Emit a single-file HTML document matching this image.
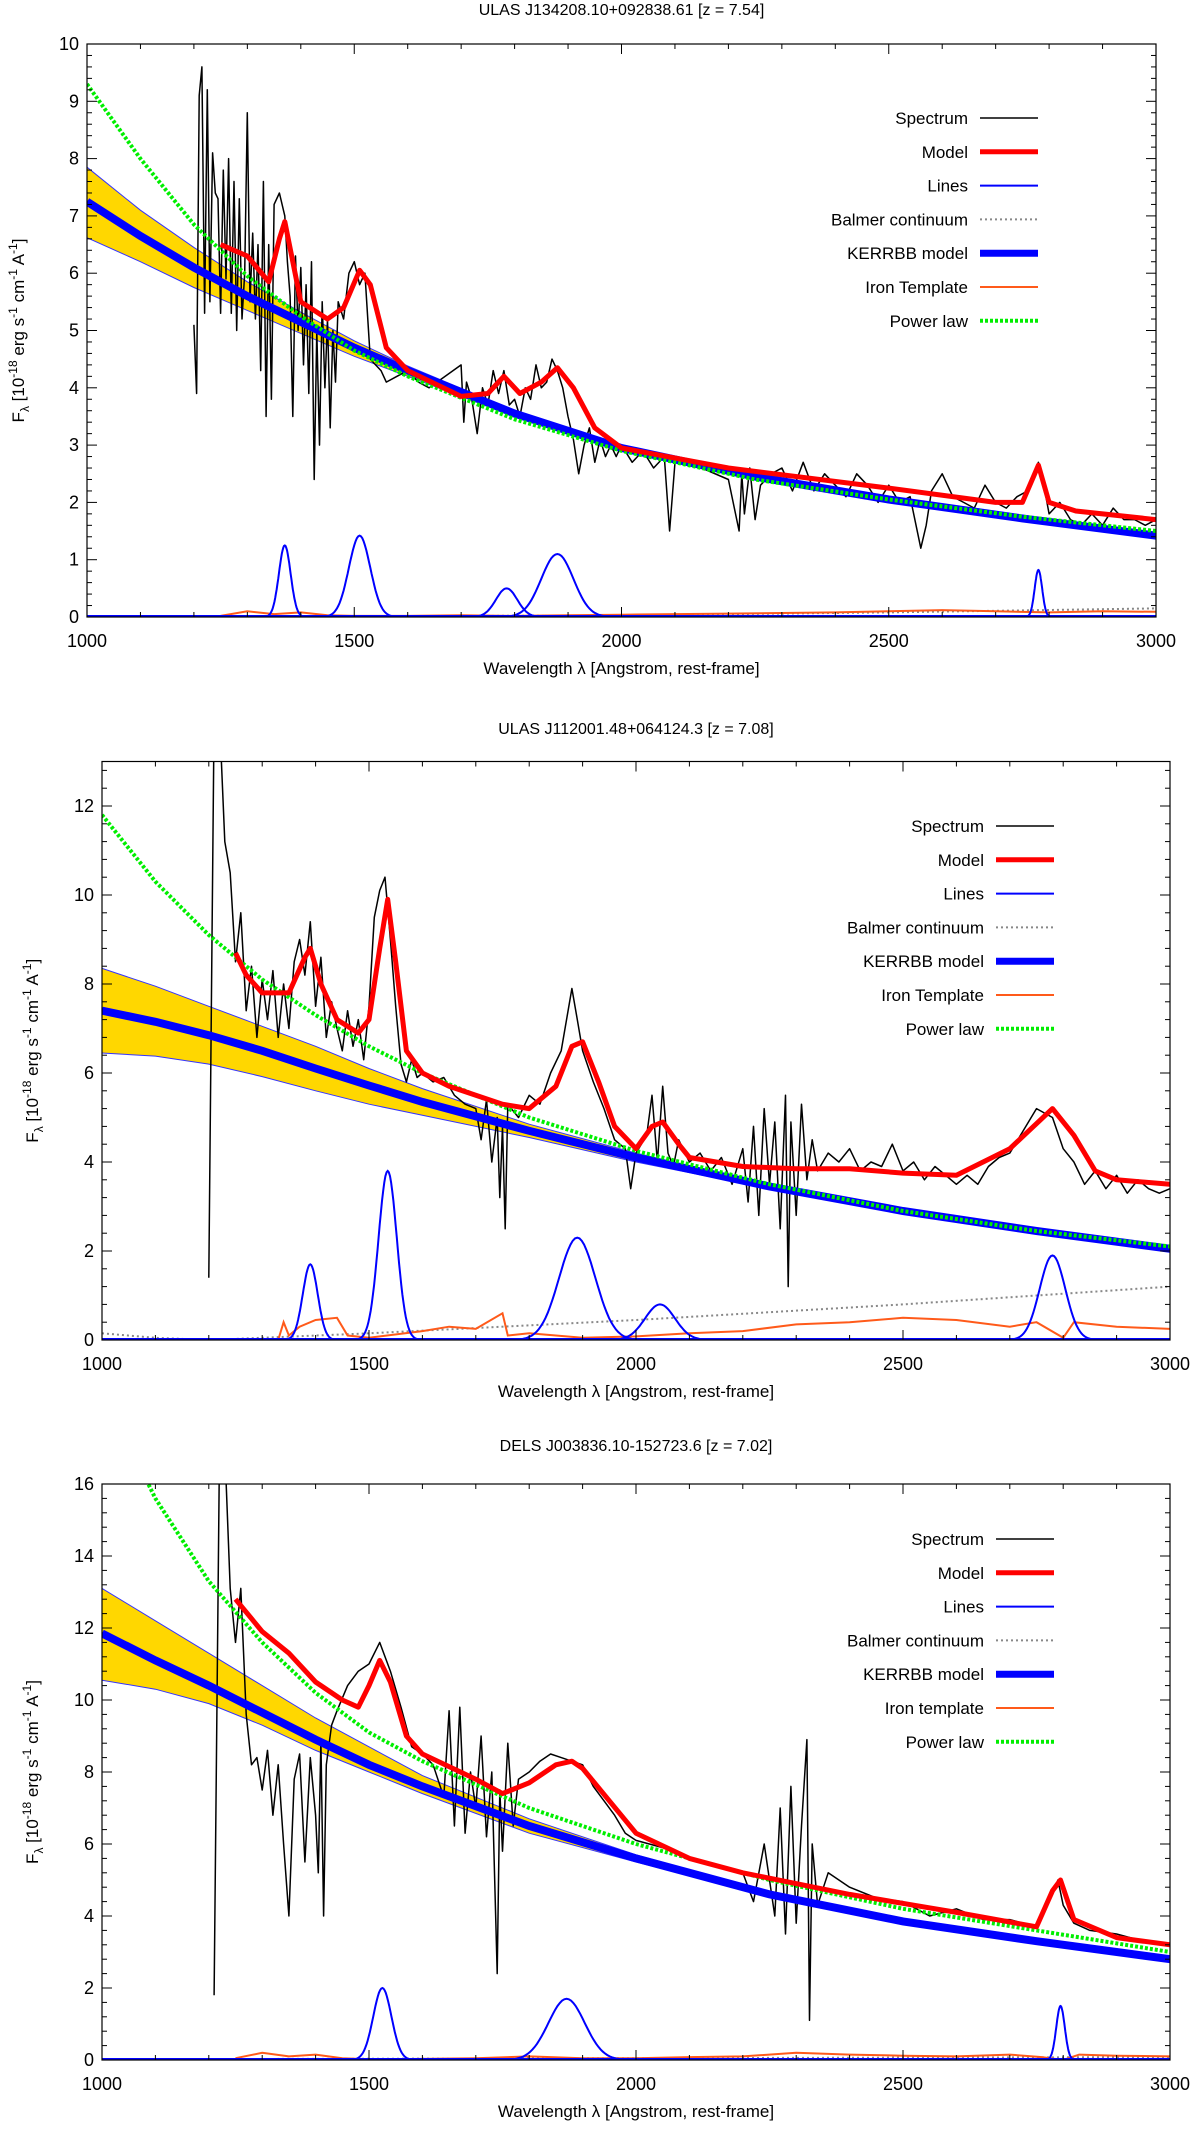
<!DOCTYPE html>
<html><head><meta charset="utf-8"><style>
html,body{margin:0;padding:0;background:#fff}
svg{display:block;font-family:"Liberation Sans","DejaVu Sans",sans-serif}
</style></head><body>
<svg id="fig" width="1200" height="2131" viewBox="0 0 1200 2131" xmlns="http://www.w3.org/2000/svg"></svg>
<script>
// ===== Panel 1 data: ULAS J134208.10+092838.61 =====
const p1SpecWl=[1200,1205,1210,1215,1220,1225,1230,1235,1240,1245,1250,1255,1260,1265,1270,1275,1280,1285,1290,1295,1300,1305,1310,1315,1320,1325,1330,1335,1340,1345,1350,1360,1370,1375,1380,1385,1390,1395,1400,1405,1410,1415,1420,1425,1430,1435,1440,1445,1450,1455,1460,1465,1470,1480,1490,1500,1510,1520,1530,1540,1550,1560,1580,1600,1620,1640,1700,1705,1710,1720,1730,1740,1750,1760,1770,1780,1790,1800,1810,1820,1830,1840,1850,1860,1870,1880,1890,1900,1910,1920,1930,1940,1950,1960,1970,1980,1990,2000,2020,2040,2060,2080,2090,2100,2150,2200,2220,2225,2230,2240,2250,2260,2280,2300,2320,2340,2360,2380,2400,2420,2440,2460,2480,2500,2520,2540,2560,2570,2580,2600,2620,2640,2660,2680,2700,2720,2740,2760,2780,2790,2800,2820,2840,2860,2880,2900,2920,2940,2960,2980,3000];
const p1SpecF=[5.1,3.9,9.1,9.6,5.3,9.2,5.5,8.1,7.4,7.3,5.3,7.8,5.9,8.0,5.3,7.6,5.0,7.3,5.2,6.0,8.8,5.5,6.7,5.2,6.5,4.3,7.6,3.5,6.5,3.8,7.2,7.4,7.0,6.2,5.6,3.5,6.3,5.0,6.1,4.4,5.8,3.9,6.2,2.4,5.0,3.0,5.5,4.0,5.2,3.3,5.0,4.1,5.5,5.2,6.0,6.2,5.8,6.0,4.5,4.4,4.3,4.1,4.2,4.3,4.1,4.0,4.4,3.4,4.1,3.8,3.2,4.0,3.7,4.3,3.9,4.3,3.7,3.8,3.5,4.0,3.8,4.4,4.0,4.1,4.5,4.3,4.0,3.5,3.1,2.5,3.0,3.3,2.7,3.1,2.8,3.0,2.8,3.0,2.7,2.9,2.6,2.8,1.5,2.7,2.6,2.4,1.5,2.5,1.8,2.6,1.7,2.3,2.5,2.6,2.2,2.7,2.2,2.5,2.3,2.1,2.5,2.3,2.0,2.3,2.0,2.1,1.2,1.6,2.2,2.5,2.1,2.0,1.9,2.3,2.0,1.9,2.1,2.2,2.7,2.3,1.8,2.0,1.7,1.6,1.8,1.6,1.9,1.7,1.7,1.6,1.7];
const p1ModelWl=[1250,1300,1340,1360,1370,1385,1400,1450,1480,1510,1530,1560,1600,1700,1750,1780,1810,1850,1880,1910,1950,2000,2200,2500,2700,2750,2780,2800,2850,3000];
const p1ModelF=[6.5,6.3,5.85,6.6,6.9,6.2,5.5,5.2,5.4,6.05,5.8,4.7,4.3,3.85,3.9,4.2,3.9,4.1,4.35,4.0,3.3,2.95,2.6,2.25,2.0,2.0,2.65,2.0,1.85,1.7];
const p1ContWl=[1000,1100,1200,1300,1400,1500,1600,1800,2000,2250,2500,2750,3000];
const p1PowerF=[9.3,8.0,6.85,5.95,5.25,4.65,4.2,3.45,2.9,2.4,2.05,1.75,1.5];
const p1KerrF=[7.25,6.65,6.1,5.6,5.15,4.7,4.3,3.55,2.95,2.45,2.05,1.72,1.42];
const p1KerrHi=[7.85,7.1,6.45,5.85,5.32,4.82,4.38,3.6,2.98,2.47,2.07,1.74,1.44];
const p1KerrLo=[6.62,6.2,5.75,5.35,4.95,4.55,4.2,3.5,2.92,2.43,2.03,1.7,1.4];
const p1LineCenters=[1370,1510,1785,1880,2780];
const p1LineAmps=[1.25,1.42,0.5,1.1,0.82];
const p1LineSigmas=[11,20,20,30,7];
const p1IronWl=[1250,1300,1350,1400,1450,1500,1600,1700,1800,1900,2000,2100,2200,2300,2400,2500,2600,2700,2800,2900,3000];
const p1IronF=[0.02,0.1,0.05,0.08,0.03,0.02,0.02,0.03,0.02,0.03,0.04,0.05,0.06,0.07,0.08,0.1,0.12,0.1,0.08,0.1,0.09];
const p1BalmerWl=[1000,1500,2000,2500,3000];
const p1BalmerF=[0,0.01,0.03,0.08,0.15];

// ===== Panel 2 data: ULAS J112001.48+064124.3 =====
const p2SpecWl=[1200,1210,1220,1230,1240,1250,1260,1270,1280,1290,1300,1310,1320,1330,1340,1350,1360,1370,1380,1390,1400,1410,1420,1430,1440,1450,1460,1470,1480,1490,1500,1510,1520,1530,1540,1550,1560,1570,1580,1590,1600,1620,1640,1660,1680,1700,1710,1720,1730,1740,1745,1750,1755,1760,1780,1800,1820,1840,1860,1880,1890,1900,1920,1940,1960,1980,1990,2000,2020,2030,2040,2050,2060,2070,2080,2100,2120,2140,2160,2180,2200,2210,2220,2230,2240,2250,2260,2270,2280,2285,2290,2300,2310,2320,2330,2340,2360,2380,2400,2420,2440,2460,2480,2500,2520,2540,2560,2580,2600,2620,2640,2660,2680,2700,2720,2750,2780,2800,2820,2840,2860,2880,2900,2920,2940,2960,2980,3000];
const p2SpecF=[1.4,14,14,11.2,10.5,8.5,9.6,7.4,8.4,6.8,8.1,7.2,8.3,6.8,8.0,7.0,8.5,9.0,8.2,9.4,7.5,8.6,6.8,7.6,7.0,6.5,7.4,6.6,7.2,6.3,7.5,9.5,10.1,10.4,9.0,7.5,6.2,5.8,6.3,5.9,6.0,5.8,5.9,5.5,5.3,5.2,4.5,5.4,4.0,5.0,3.2,4.8,2.5,5.3,5.0,5.5,5.3,6.0,6.5,7.9,7.2,6.5,5.8,5.2,4.5,4.3,3.4,4.2,4.6,5.5,4.0,5.7,4.2,3.9,4.5,4.0,4.2,3.8,4.1,3.5,4.3,3.1,4.8,2.8,5.2,3.5,4.9,2.5,5.5,1.2,4.9,2.8,5.3,3.6,4.5,3.8,4.2,4.0,4.3,3.8,4.0,3.9,4.4,3.8,4.0,3.6,3.9,3.7,3.5,3.7,3.5,3.9,4.1,4.2,4.6,5.2,5.0,4.3,4.0,3.5,3.8,3.4,3.7,3.3,3.6,3.4,3.3,3.4];
const p2ModelWl=[1250,1270,1300,1350,1380,1390,1410,1440,1480,1500,1520,1535,1550,1570,1600,1650,1700,1750,1800,1850,1880,1900,1930,1960,2000,2030,2050,2080,2100,2200,2300,2400,2500,2600,2700,2780,2820,2860,2900,3000];
const p2ModelF=[8.7,8.2,7.8,7.8,8.6,8.8,8.0,7.2,6.9,7.2,8.8,9.9,8.5,6.5,6.0,5.7,5.5,5.3,5.2,5.7,6.6,6.7,5.8,4.8,4.3,4.8,4.9,4.4,4.1,3.9,3.85,3.85,3.75,3.7,4.3,5.2,4.6,3.8,3.6,3.5];
const p2ContWl=[1000,1100,1200,1300,1400,1500,1600,1800,2000,2250,2500,2750,3000];
const p2PowerF=[11.8,10.3,9.1,8.1,7.3,6.6,6.0,5.0,4.25,3.5,2.9,2.45,2.1];
const p2KerrF=[7.4,7.15,6.85,6.5,6.1,5.72,5.35,4.7,4.1,3.45,2.9,2.45,2.05];
const p2KerrHi=[8.35,7.95,7.5,7.05,6.6,6.1,5.65,4.85,4.2,3.5,2.93,2.47,2.07];
const p2KerrLo=[6.45,6.38,6.2,5.92,5.6,5.3,5.05,4.55,4.0,3.4,2.87,2.43,2.03];
const p2LineCenters=[1390,1535,1890,2045,2780];
const p2LineAmps=[1.7,3.8,2.3,0.8,1.9];
const p2LineSigmas=[14,17,34,28,24];
const p2IronWl=[1000,1330,1340,1350,1370,1400,1440,1460,1500,1600,1650,1700,1750,1760,1800,1900,2000,2100,2200,2300,2400,2500,2600,2700,2750,2800,2820,2900,3000];
const p2IronF=[0,0,0.4,0.1,0.3,0.45,0.5,0.1,0.05,0.2,0.3,0.25,0.6,0.1,0.15,0.05,0.08,0.15,0.2,0.35,0.4,0.5,0.45,0.3,0.4,0.05,0.4,0.3,0.25];
const p2BalmerWl=[1000,1100,1200,1500,2000,2500,3000];
const p2BalmerF=[0.15,0.05,0,0.15,0.45,0.8,1.2];

// ===== Panel 3 data: DELS J003836.10-152723.6 =====
const p3SpecWl=[1210,1220,1230,1240,1250,1260,1270,1280,1290,1300,1310,1320,1330,1340,1350,1360,1370,1380,1390,1400,1405,1410,1415,1420,1430,1440,1460,1480,1500,1520,1540,1560,1580,1600,1620,1640,1650,1660,1670,1680,1690,1700,1710,1720,1730,1740,1745,1750,1760,1770,1780,1800,1820,1840,1860,1880,1900,1920,1940,1960,1980,2000,2050,2100,2150,2200,2220,2240,2260,2270,2280,2290,2300,2310,2320,2325,2330,2340,2360,2400,2450,2500,2550,2600,2650,2700,2750,2780,2790,2800,2820,2850,2900,2950,3000];
const p3SpecF=[1.8,17,17,13.1,11.6,13.1,9.6,8.2,8.4,7.5,8.6,6.8,8.2,6.0,4.0,7.8,8.5,5.5,8.4,6.8,5.2,8.9,4.0,8.2,9.3,9.7,10.4,10.8,11.0,11.6,10.8,9.8,8.7,8.5,8.2,7.3,9.7,6.5,9.8,6.3,8.0,7.0,9.0,6.2,8.0,2.4,7.5,5.8,8.8,6.5,7.8,8.0,8.3,8.5,8.4,8.3,8.2,7.6,7.2,6.8,6.3,6.1,5.9,5.6,5.4,5.2,4.4,6.0,4.0,7.0,3.5,7.6,3.8,6.5,8.9,1.1,6.0,4.3,5.2,4.8,4.5,4.4,4.0,4.2,3.9,3.9,3.7,4.6,5.0,4.3,3.8,3.6,3.5,3.3,3.2];
const p3ModelWl=[1250,1300,1350,1400,1450,1480,1500,1520,1540,1570,1600,1700,1750,1800,1850,1880,1900,1950,2000,2100,2200,2400,2600,2750,2780,2795,2820,2900,3000];
const p3ModelF=[12.8,11.9,11.3,10.5,10.0,9.8,10.4,11.1,10.5,9.0,8.5,7.8,7.4,7.7,8.2,8.3,8.1,7.2,6.3,5.6,5.2,4.6,4.1,3.7,4.7,5.0,3.9,3.4,3.2];
const p3ContWl=[1000,1100,1200,1300,1400,1500,1600,1800,2000,2250,2500,2750,3000];
const p3PowerF=[18.6,15.6,13.3,11.6,10.2,9.1,8.3,7.0,6.0,5.0,4.2,3.6,3.0];
const p3KerrF=[11.85,11.1,10.4,9.65,8.9,8.2,7.6,6.5,5.6,4.6,3.85,3.3,2.8];
const p3KerrHi=[13.1,12.2,11.3,10.4,9.5,8.7,7.9,6.7,5.7,4.65,3.88,3.32,2.82];
const p3KerrLo=[10.55,10.3,9.9,9.3,8.6,8.0,7.4,6.3,5.5,4.55,3.82,3.28,2.78];
const p3LineCenters=[1525,1870,2795];
const p3LineAmps=[2.0,1.7,1.5];
const p3LineSigmas=[17,34,8];
const p3IronWl=[1250,1300,1350,1400,1450,1500,1600,1700,1800,1900,2000,2100,2200,2300,2400,2500,2600,2700,2760,2800,2830,2900,3000];
const p3IronF=[0.05,0.2,0.1,0.15,0.05,0.02,0.03,0.05,0.1,0.05,0.05,0.08,0.1,0.2,0.15,0.12,0.1,0.15,0.08,0,0.15,0.12,0.1];
const p3BalmerWl=[1000,2000,3000];
const p3BalmerF=[0.02,0.05,0.08];

const NS='http://www.w3.org/2000/svg';
const svg=document.getElementById('fig');
function mk(tag,attrs,parent){const e=document.createElementNS(NS,tag);for(const k in attrs)e.setAttribute(k,attrs[k]);(parent||svg).appendChild(e);return e;}

const panels=[
 {id:'p1',title:'ULAS J134208.10+092838.61  [z = 7.54]',L:87,R:1156,T:44,B:617,ymax:10,ymaj:1,titleY:15,ylabX:24,
  specWl:p1SpecWl,specF:p1SpecF,modWl:p1ModelWl,modF:p1ModelF,contWl:p1ContWl,pow:p1PowerF,kerr:p1KerrF,hi:p1KerrHi,lo:p1KerrLo,
  lc:p1LineCenters,la:p1LineAmps,ls:p1LineSigmas,feWl:p1IronWl,fe:p1IronF,baWl:p1BalmerWl,ba:p1BalmerF,iron:'Iron Template',legX:968,legY:118},
 {id:'p2',title:'ULAS J112001.48+064124.3  [z = 7.08]',L:102,R:1170,T:761.5,B:1340,ymax:13,ymaj:2,titleY:734,ylabX:38,
  specWl:p2SpecWl,specF:p2SpecF,modWl:p2ModelWl,modF:p2ModelF,contWl:p2ContWl,pow:p2PowerF,kerr:p2KerrF,hi:p2KerrHi,lo:p2KerrLo,
  lc:p2LineCenters,la:p2LineAmps,ls:p2LineSigmas,feWl:p2IronWl,fe:p2IronF,baWl:p2BalmerWl,ba:p2BalmerF,iron:'Iron Template',legX:984,legY:826},
 {id:'p3',title:'DELS J003836.10-152723.6  [z = 7.02]',L:102,R:1170,T:1484,B:2060,ymax:16,ymaj:2,titleY:1451,ylabX:38,
  specWl:p3SpecWl,specF:p3SpecF,modWl:p3ModelWl,modF:p3ModelF,contWl:p3ContWl,pow:p3PowerF,kerr:p3KerrF,hi:p3KerrHi,lo:p3KerrLo,
  lc:p3LineCenters,la:p3LineAmps,ls:p3LineSigmas,feWl:p3IronWl,fe:p3IronF,baWl:p3BalmerWl,ba:p3BalmerF,iron:'Iron template',legX:984,legY:1539}
];

function pathFrom(xs,ys,X,Y){let d='';for(let i=0;i<xs.length;i++)d+=(i?'L':'M')+X(xs[i]).toFixed(1)+' '+Y(ys[i]).toFixed(1);return d;}

panels.forEach(p=>{
  const X=w=>p.L+(w-1000)/2000*(p.R-p.L);
  const Y=f=>p.B-f/p.ymax*(p.B-p.T);
  const g=mk('g',{});
  
  
  const t=mk('text',{x:(p.L+p.R)/2,y:p.titleY,'text-anchor':'middle','font-size':16,fill:'#000'},g);
  t.textContent=p.title;
  
  
  const clip=mk('clipPath',{id:'clip'+p.id},g);
  mk('rect',{x:p.L,y:p.T,width:p.R-p.L,height:p.B-p.T},clip);
  const pg=mk('g',{'clip-path':'url(#clip'+p.id+')'},g);
  // band
  let bd=pathFrom(p.contWl,p.hi,X,Y);
  for(let i=p.contWl.length-1;i>=0;i--)bd+='L'+X(p.contWl[i]).toFixed(1)+' '+Y(p.lo[i]).toFixed(1);
  const band=mk('path',{d:bd+'Z',fill:'#ffd700',stroke:'none'},pg);
  
  
  [p.hi,p.lo].forEach((arr,k)=>{const e=mk('path',{d:pathFrom(p.contWl,arr,X,Y),fill:'none',stroke:'#3333ff','stroke-width':1},pg);
    
    });
  // balmer
  const ba=mk('path',{d:pathFrom(p.baWl,p.ba,X,Y),fill:'none',stroke:'#888','stroke-width':2,'stroke-dasharray':'2,3'},pg);
  
  
  // iron
  const fe=mk('path',{d:pathFrom(p.feWl,p.fe,X,Y),fill:'none',stroke:'#ff5a1a','stroke-width':2},pg);
  
  
  // lines gaussians
  for(let j=0;j<p.lc.length;j++){
    const xs=[],ys=[];
    for(let w=p.lc[j]-4*p.ls[j];w<=p.lc[j]+4*p.ls[j];w+=p.ls[j]/8){xs.push(w);ys.push(p.la[j]*Math.exp(-0.5*Math.pow((w-p.lc[j])/p.ls[j],2)));}
    const ln=mk('path',{d:pathFrom(xs,ys,X,Y),fill:'none',stroke:'#0000ff','stroke-width':2},pg);
    
    
  }
  mk('line',{x1:p.L,x2:p.R,y1:Y(0)-1,y2:Y(0)-1,stroke:'#0000ff','stroke-width':2},pg);
  // spectrum
  const sp=mk('path',{d:pathFrom(p.specWl,p.specF,X,Y),fill:'none',stroke:'#000','stroke-width':1.5,'stroke-linejoin':'round'},pg);
  
  
  // kerrbb
  const kb=mk('path',{d:pathFrom(p.contWl,p.kerr,X,Y),fill:'none',stroke:'#0000ff','stroke-width':8},pg);
  
  
  // power law
  const pw=mk('path',{d:pathFrom(p.contWl,p.pow,X,Y),fill:'none',stroke:'#00ee00','stroke-width':4,'stroke-dasharray':'3,2'},pg);
  
  
  // model
  const md=mk('path',{d:pathFrom(p.modWl,p.modF,X,Y),fill:'none',stroke:'#ff0000','stroke-width':5,'stroke-linejoin':'round'},pg);
  
  
  // frame
  mk('rect',{x:p.L,y:p.T,width:p.R-p.L,height:p.B-p.T,fill:'none',stroke:'#000','stroke-width':1.2},g);
  // x ticks
  for(let w=1000;w<=3000;w+=100){
    const maj=(w%500===0),len=maj?10:5,x=X(w);
    mk('line',{x1:x,x2:x,y1:p.B,y2:p.B-len,stroke:'#000','stroke-width':1},g);
    mk('line',{x1:x,x2:x,y1:p.T,y2:p.T+len,stroke:'#000','stroke-width':1},g);
    if(maj){const tl=mk('text',{x:x,y:p.B+30,'text-anchor':'middle','font-size':18,fill:'#000'},g);tl.textContent=w;
      
      }
  }
  const nmin=p.ymax/p.ymaj*5;
  for(let k=0;k<=nmin;k++){
    const v=k*p.ymaj/5,y=Y(v),maj=(k%5===0),len=maj?10:5;
    mk('line',{x1:p.L,x2:p.L+len,y1:y,y2:y,stroke:'#000','stroke-width':1},g);
    mk('line',{x1:p.R,x2:p.R-len,y1:y,y2:y,stroke:'#000','stroke-width':1},g);
    if(maj){const tl=mk('text',{x:p.L-8,y:y+6,'text-anchor':'end','font-size':18,fill:'#000'},g);tl.textContent=Math.round(v);
      
      }
  }
  const xt=mk('text',{x:(p.L+p.R)/2,y:p.B+57,'text-anchor':'middle','font-size':17,fill:'#000'},g);
  xt.textContent='Wavelength λ  [Angstrom, rest-frame]';
  
  
  const cy=(p.T+p.B)/2;
  const yt=mk('text',{x:p.ylabX,y:cy,'text-anchor':'middle','font-size':17,fill:'#000',transform:'rotate(-90 '+p.ylabX+' '+cy+')'},g);
  yt.innerHTML='F<tspan font-size="12" dy="5">λ</tspan><tspan dy="-5">  [10</tspan><tspan font-size="12" dy="-7">-18</tspan><tspan dy="7"> erg s</tspan><tspan font-size="12" dy="-7">-1</tspan><tspan dy="7"> cm</tspan><tspan font-size="12" dy="-7">-1</tspan><tspan dy="7"> A</tspan><tspan font-size="12" dy="-7">-1</tspan><tspan dy="7">]</tspan>';
  
  
  // legend
  const leg=[['Spectrum','#000',1.5,''],['Model','#ff0000',5,''],['Lines','#0000ff',2,''],['Balmer continuum','#888',2,'2,3'],['KERRBB model','#0000ff',7,''],[p.iron,'#ff5a1a',2,''],['Power law','#00ee00',4,'3,2']];
  leg.forEach((e,i)=>{
    const y=p.legY+i*33.8;
    const lg=mk('g',{},g);
    
    
    const tx=mk('text',{x:p.legX,y:y+6,'text-anchor':'end','font-size':17,fill:'#000'},lg);tx.textContent=e[0];
    const a={x1:p.legX+12,x2:p.legX+70,y1:y,y2:y,stroke:e[1],'stroke-width':e[2]};if(e[3])a['stroke-dasharray']=e[3];
    mk('line',a,lg);
  });
});
</script>
</body></html>
